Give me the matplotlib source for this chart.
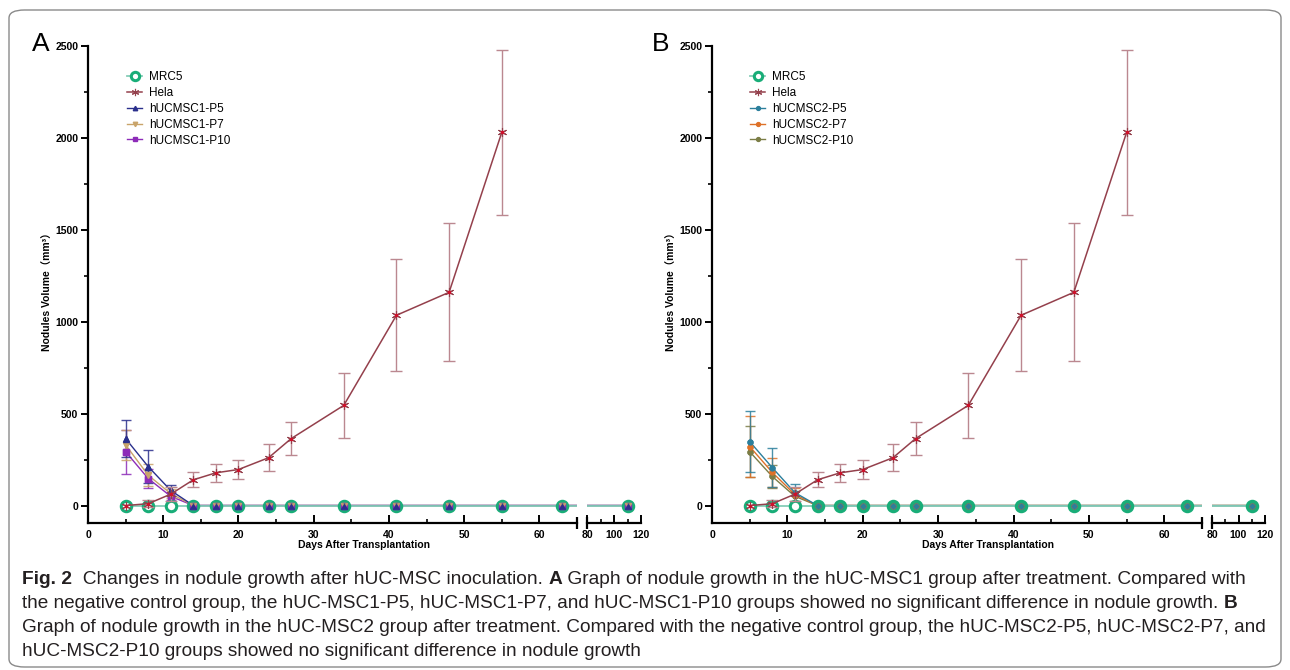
import matplotlib
matplotlib.use('Agg')
import matplotlib.pyplot as plt
from matplotlib.patches import FancyBboxPatch
from matplotlib.ticker import MultipleLocator, FixedLocator
from matplotlib.text import Annotation

plt.rcParams['font.family'] = ['Liberation Sans', 'DejaVu Sans']

# ---- data ----
days = [5, 8, 11, 14, 17, 20, 24, 27, 34, 41, 48, 55, 63, 110]
hela_days = [5, 8, 11, 14, 17, 20, 24, 27, 34, 41, 48, 55]

mrc5 = [0, 0, 0, 0, 0, 0, 0, 0, 0, 0, 0, 0, 0, 0]
hela = [0, 10, 62, 140, 178, 196, 260, 364, 545, 1035, 1160, 2030]
hela_sd = [0, 18, 40, 40, 48, 50, 73, 90, 175, 305, 375, 450]

# panel A (hUCMSC1)
a_p5 = [364, 212, 82, 0, 0, 0, 0, 0, 0, 0, 0, 0, 0, 0]
a_p5_sd = [100, 90, 28, 0, 0, 0, 0, 0, 0, 0, 0, 0, 0, 0]
a_p7 = [330, 165, 65, 0, 0, 0, 0, 0, 0, 0, 0, 0, 0, 0]
a_p7_sd = [80, 60, 25, 0, 0, 0, 0, 0, 0, 0, 0, 0, 0, 0]
a_p10 = [293, 147, 50, 0, 0, 0, 0, 0, 0, 0, 0, 0, 0, 0]
a_p10_sd = [120, 50, 22, 0, 0, 0, 0, 0, 0, 0, 0, 0, 0, 0]

# panel B (hUCMSC2)
b_p5 = [348, 206, 70, 0, 0, 0, 0, 0, 0, 0, 0, 0, 0, 0]
b_p5_sd = [165, 105, 45, 0, 0, 0, 0, 0, 0, 0, 0, 0, 0, 0]
b_p7 = [321, 180, 60, 0, 0, 0, 0, 0, 0, 0, 0, 0, 0, 0]
b_p7_sd = [165, 80, 35, 0, 0, 0, 0, 0, 0, 0, 0, 0, 0, 0]
b_p10 = [293, 158, 50, 0, 0, 0, 0, 0, 0, 0, 0, 0, 0, 0]
b_p10_sd = [140, 60, 30, 0, 0, 0, 0, 0, 0, 0, 0, 0, 0, 0]

labels_a = ['MRC5', 'Hela', 'hUCMSC1-P5', 'hUCMSC1-P7', 'hUCMSC1-P10']
labels_b = ['MRC5', 'Hela', 'hUCMSC2-P5', 'hUCMSC2-P7', 'hUCMSC2-P10']

MRC_GREEN = '#19ad78'
MRC_LINE = '#86cdb8'
HELA = '#94404c'
HELA_ERR = '#bb8890'

W, H = 1290, 670
fig = plt.figure(figsize=(W / 100, H / 100), dpi=100)


def fx(px):
    return px / W


def fy(py):
    return 1 - py / H


def draw_series(ax, x, y, sd, color, marker, ms):
    ln, = ax.plot(x, y, color=color, lw=1, marker=marker, ms=ms,
                  mfc=color, mec=color, zorder=2)
    ax.plot(x, y, ls='none', marker=marker, ms=ms, mfc=color,
            mec=color, zorder=4)
    xe = [a for a, e in zip(x, sd) if e > 0]
    ye = [b for b, e in zip(y, sd) if e > 0]
    ee = [e for e in sd if e > 0]
    ax.errorbar(xe, ye, yerr=ee, fmt='none', ecolor=color, elinewidth=1,
                capsize=3.5, capthick=1, zorder=2, alpha=0.85)
    return ln


def draw_panel(x0, x1, x2, x3, letter, msc, labels, leg_xy, letter_x):
    ybot, ytop = 523, 46
    axl = fig.add_axes([fx(x0), fy(ybot), fx(x1 - x0), fy(ytop) - fy(ybot)])
    axr = fig.add_axes([fx(x2), fy(ybot), fx(x3 - x2), fy(ytop) - fy(ybot)])
    handles = []
    for ax in (axl, axr):
        hs = {}
        for key, (y, sd, color, marker, ms) in msc.items():
            hs[key] = draw_series(ax, days, y, sd, color, marker, ms)
        mrc, = ax.plot(days, mrc5, color=MRC_LINE, lw=1.3, marker='o', ms=7.5,
                       mfc='white', mec=MRC_GREEN, mew=2.2, zorder=3)
        ax.scatter(days[3:], mrc5[3:], s=55, color=MRC_GREEN, zorder=3.5,
                   linewidths=0)
        for key, (y, sd, color, marker, ms) in msc.items():
            ax.plot(days[3:], y[3:], ls='none', marker=marker, ms=ms * 0.75,
                    mfc=color, mec=color, zorder=4)
        hl, = ax.plot(hela_days, hela, color=HELA, lw=1.1, marker=(6, 2, 0),
                      ms=6.5, mew=0.8, zorder=5)
        ax.plot(hela_days, hela, ls='none', marker='s', ms=2, mfc='#d0102a',
                mec='#d0102a', zorder=6)
        ax.errorbar(hela_days[1:], hela[1:], yerr=hela_sd[1:], fmt='none',
                    ecolor=HELA_ERR, elinewidth=1, capsize=4, capthick=1,
                    zorder=4.5)
        ax.set_ylim(-95, 2500)
        for s in ('top', 'right'):
            ax.spines[s].set_visible(False)
        ax.spines['bottom'].set_linewidth(1.6)
        ax.spines['left'].set_linewidth(1.6)
        ax.set_facecolor('none')
        if not handles:
            handles = [mrc, hl, hs['p5'], hs['p7'], hs['p10']]

    axl.set_xlim(0, 65)
    axl.xaxis.set_major_locator(FixedLocator([0, 10, 20, 30, 40, 50, 60]))
    axl.xaxis.set_minor_locator(FixedLocator([5, 15, 25, 35, 45, 55]))
    axl.yaxis.set_major_locator(MultipleLocator(500))
    axl.yaxis.set_minor_locator(MultipleLocator(250))
    axl.tick_params(axis='y', which='major', direction='out', length=5,
                    width=1.4, labelsize=7.5, pad=2)
    axl.tick_params(axis='y', which='minor', direction='out', length=3,
                    width=1.2)
    for t in axl.get_yticklabels():
        t.set_fontweight('bold')

    axr.set_xlim(80, 120)
    axr.spines['left'].set_visible(False)
    axr.yaxis.set_visible(False)
    axr.xaxis.set_major_locator(FixedLocator([80, 100, 120]))
    axr.xaxis.set_minor_locator(FixedLocator([90, 110]))

    for ax in (axl, axr):
        ax.tick_params(axis='x', which='major', direction='in', length=6,
                       width=1.4, labelsize=7.5, pad=5)
        ax.tick_params(axis='x', which='minor', direction='in', length=3,
                       width=1.2)
        for t in ax.get_xticklabels():
            t.set_fontweight('bold')
    # break marks
    axl.plot([1], [0], marker='|', ms=9, mew=1.6, color='black',
             transform=axl.transAxes, clip_on=False)
    axr.plot([0], [0], marker='|', ms=9, mew=1.6, color='black',
             transform=axr.transAxes, clip_on=False)

    fig.legend(handles, labels, loc='upper left',
               bbox_to_anchor=(fx(leg_xy[0]), fy(leg_xy[1])),
               frameon=False, fontsize=8.5, handlelength=1.3,
               handletextpad=0.55, labelspacing=0.33, borderpad=0,
               borderaxespad=0, markerscale=0.8)

    fig.text(fx(x0 - 40), fy((ybot + ytop) / 2 + 5), 'Nodules Volume（mm³）',
             rotation=90, ha='center', va='center', fontsize=7.5,
             fontweight='bold', family=['Liberation Sans', 'Noto Sans CJK SC'])
    fig.text(fx((x0 + x3) / 2), fy(545), 'Days After Transplantation',
             ha='center', va='center', fontsize=7.5, fontweight='bold')
    fig.text(fx(letter_x), fy(44), letter, ha='left', va='center',
             fontsize=19)


msc_a = {
    'p10': (a_p10, a_p10_sd, '#8d2bb8', 's', 4),
    'p7': (a_p7, a_p7_sd, '#c9a46a', 'v', 4),
    'p5': (a_p5, a_p5_sd, '#2a2f8c', '^', 4),
}
msc_b = {
    'p10': (b_p10, b_p10_sd, '#7b7d46', 'o', 3.5),
    'p7': (b_p7, b_p7_sd, '#de7128', 'o', 3.5),
    'p5': (b_p5, b_p5_sd, '#2b7f9c', 'o', 3.5),
}

draw_panel(88, 577, 587, 641, 'A', msc_a, labels_a, (127, 71), 32)
draw_panel(712, 1202, 1212, 1265, 'B', msc_b, labels_b, (750, 71), 652)

# ---- caption ----
cap = fig.add_axes([0, 0, 1, 1])
cap.axis('off')
cap.set_xlim(0, 1)
cap.set_ylim(0, 1)

CAP_FONT = ['Liberation Sans', 'DejaVu Sans']
cap_lines = [
    [('Fig. 2', 'bold'), ('  Changes in nodule growth after hUC-MSC inoculation. ', 'normal'),
     ('A', 'bold'),
     (' Graph of nodule growth in the hUC-MSC1 group after treatment. Compared with', 'normal')],
    [('the negative control group, the hUC-MSC1-P5, hUC-MSC1-P7, and hUC-MSC1-P10 groups '
      'showed no significant difference in nodule growth. ', 'normal'), ('B', 'bold')],
    [('Graph of nodule growth in the hUC-MSC2 group after treatment. Compared with the negative '
      'control group, the hUC-MSC2-P5, hUC-MSC2-P7, and', 'normal')],
    [('hUC-MSC2-P10 groups showed no significant difference in nodule growth', 'normal')],
]
cap_right = [1255, 1250, 1276, None]
cap_texts = []
for i, parts in enumerate(cap_lines):
    y = 584 + 24 * i
    prev = None
    row = []
    for s, w in parts:
        if prev is None:
            t = cap.text(fx(22), fy(y), s, fontsize=10.5, fontweight=w,
                         family=CAP_FONT, color='#231f20', va='baseline')
        else:
            t = Annotation(s, xy=(1, 0), xycoords=prev, fontsize=10.5,
                           fontweight=w, family=CAP_FONT, color='#231f20',
                           va='bottom', ha='left')
            cap.add_artist(t)
        row.append(t)
        prev = t
    cap_texts.append(row)

# fit each caption line to the width it takes in the original
fig.canvas.draw()
r = fig.canvas.get_renderer()
ks = []
for row, right in zip(cap_texts, cap_right):
    if right is None:
        continue
    x_left = row[0].get_window_extent(r).x0
    x_right = row[-1].get_window_extent(r).x1
    ks.append((right - 22) / (x_right - x_left))
ks.append(sum(ks) / len(ks))
for row, k in zip(cap_texts, ks):
    for t in row:
        t.set_fontsize(10.5 * k)

# rounded frame
fig.patches.append(FancyBboxPatch((fx(9), fy(667)), fx(1281 - 9), fy(10) - fy(667),
                                  boxstyle='round,pad=0,rounding_size=0.012',
                                  transform=fig.transFigure, fill=False,
                                  ec='#8a8a8a', lw=1, figure=fig))

fig.savefig('out.png', dpi=100)
